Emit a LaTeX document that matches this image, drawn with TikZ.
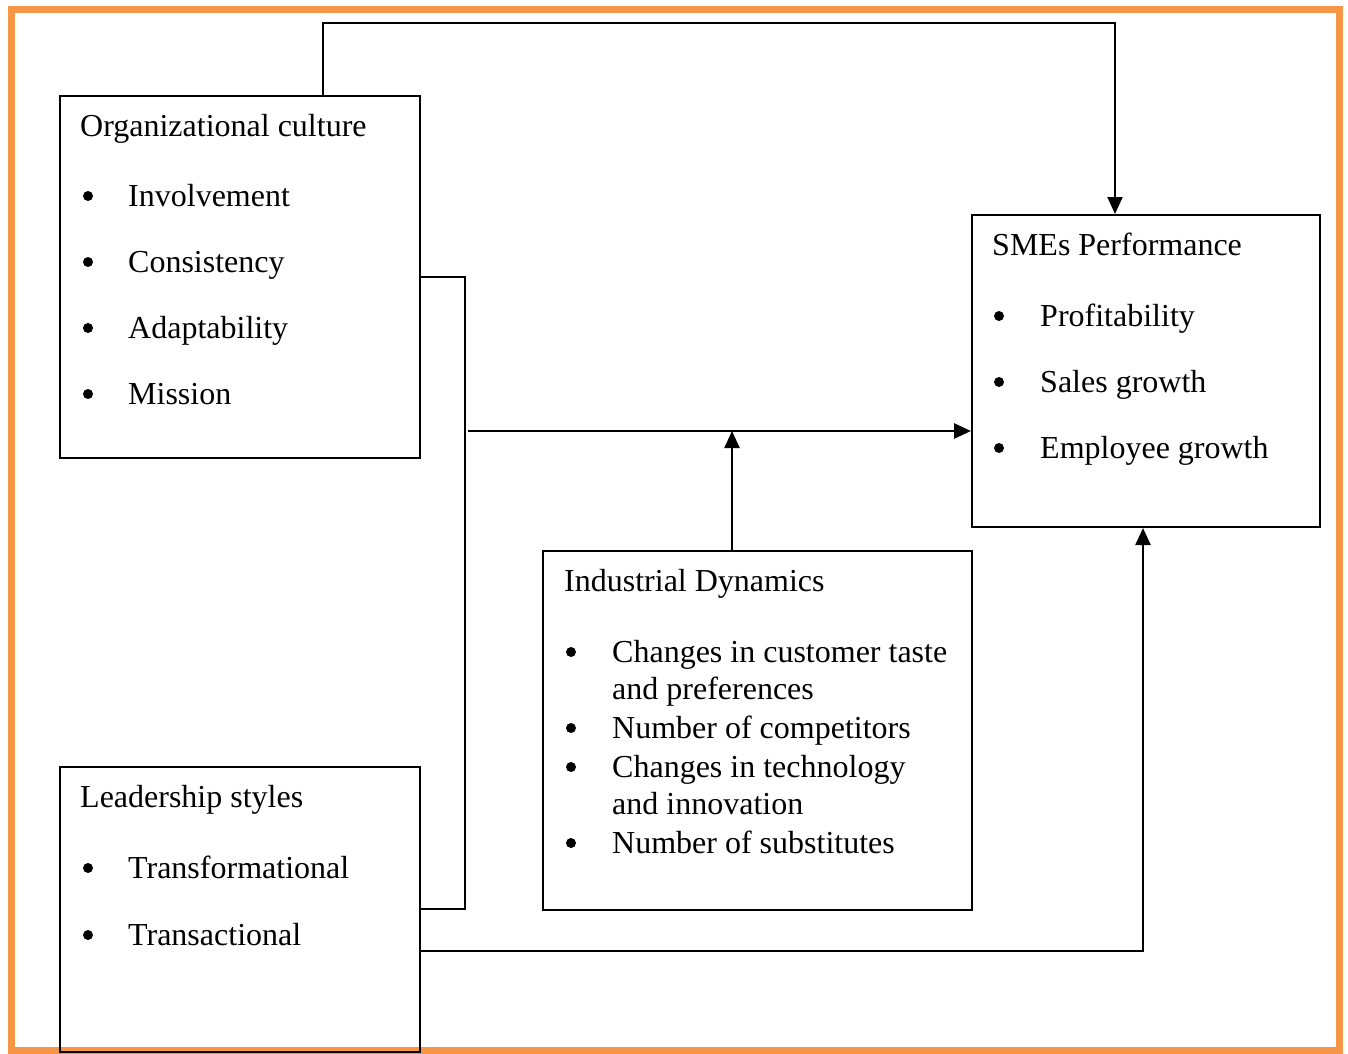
\documentclass[tikz,border=0pt]{standalone}
\usepackage{fontspec}
\setmainfont{Liberation Serif}
\usetikzlibrary{arrows.meta}
\definecolor{frameorange}{RGB}{247,150,70}

\begin{document}
\begin{tikzpicture}[x=1pt,y=-1pt,
  box/.style={draw, line width=2pt, inner sep=0pt},
  txt/.style={anchor=base west, inner sep=0pt, font=\fontsize{32}{38}\selectfont},
  dot/.style={circle, fill, inner sep=0pt, minimum size=10pt},
  >={Triangle[length=17pt,width=15pt]}]
\useasboundingbox (0,0) rectangle (1348,1053);
\draw[frameorange, line width=7pt] (11.5,9.5) rectangle (1339.5,1050);

% boxes
\node[box, minimum width=360pt, minimum height=362pt] (oc) at (240,277) {};
\node[box, minimum width=348pt, minimum height=312pt] (sme) at (1146,371) {};
\node[box, minimum width=429pt, minimum height=359pt] (ind) at (757.5,730.5) {};
\node[box, minimum width=360pt, minimum height=285pt] (ls) at (240,909.5) {};

% organizational culture
\node[txt] (oct) at (80,136) {Organizational culture};
\node[dot] (ocd1) at (88,196) {};
\node[dot] (ocd2) at (88,262) {};
\node[dot] (ocd3) at (88,328) {};
\node[dot] (ocd4) at (88,394) {};
\node[txt] (oc1) at (128,206) {Involvement};
\node[txt] (oc2) at (128,272) {Consistency};
\node[txt] (oc3) at (128,338) {Adaptability};
\node[txt] (oc4) at (128,404) {Mission};

% SMEs performance
\node[txt] (smet) at (992,255) {SMEs Performance};
\node[dot] (smed1) at (999,316) {};
\node[dot] (smed2) at (999,382) {};
\node[dot] (smed3) at (999,448) {};
\node[txt] (sme1) at (1040,326) {Profitability};
\node[txt] (sme2) at (1040,392) {Sales growth};
\node[txt] (sme3) at (1040,458) {Employee growth};

% industrial dynamics
\node[txt] (indt) at (564,591) {Industrial Dynamics};
\node[dot] (indd1) at (571,652) {};
\node[dot] (indd2) at (571,728) {};
\node[dot] (indd3) at (571,767) {};
\node[dot] (indd4) at (571,843) {};
\node[txt] (ind1) at (612,662) {Changes in customer taste};
\node[txt] (ind1b) at (612,699) {and preferences};
\node[txt] (ind2) at (612,738) {Number of competitors};
\node[txt] (ind3) at (612,777) {Changes in technology};
\node[txt] (ind3b) at (612,814) {and innovation};
\node[txt] (ind4) at (612,853) {Number of substitutes};

% leadership styles
\node[txt] (lst) at (80,807) {Leadership styles};
\node[dot] (lsd1) at (88,868) {};
\node[dot] (lsd2) at (88,935) {};
\node[txt] (ls1) at (128,878) {Transformational};
\node[txt] (ls2) at (128,945) {Transactional};

% connectors
\coordinate (topL) at (323,23);
\coordinate (topR) at (1115,23);
\coordinate (jt) at (465,277);
\coordinate (jb) at (465,909);
\coordinate (mid) at (468,431);
\coordinate (indup) at (732,431);
\coordinate (bot) at (1143,951);

\path[draw,line width=2pt,->] (oc.north -| topL) -- (topL) -- (topR) -- (topR |- sme.north);
\path[draw,line width=2pt] (oc.east |- jt) -- (jt) -- (jb) -- (ls.east |- jb);
\path[draw,line width=2.8pt,->] (mid) -- (mid -| sme.west);
\path[draw,line width=2.4pt,->] (ind.north -| indup) -- (indup);
\path[draw,line width=2.4pt,->] (ls.east |- bot) -- (bot) -- (bot |- sme.south);
\end{tikzpicture}
\end{document}
